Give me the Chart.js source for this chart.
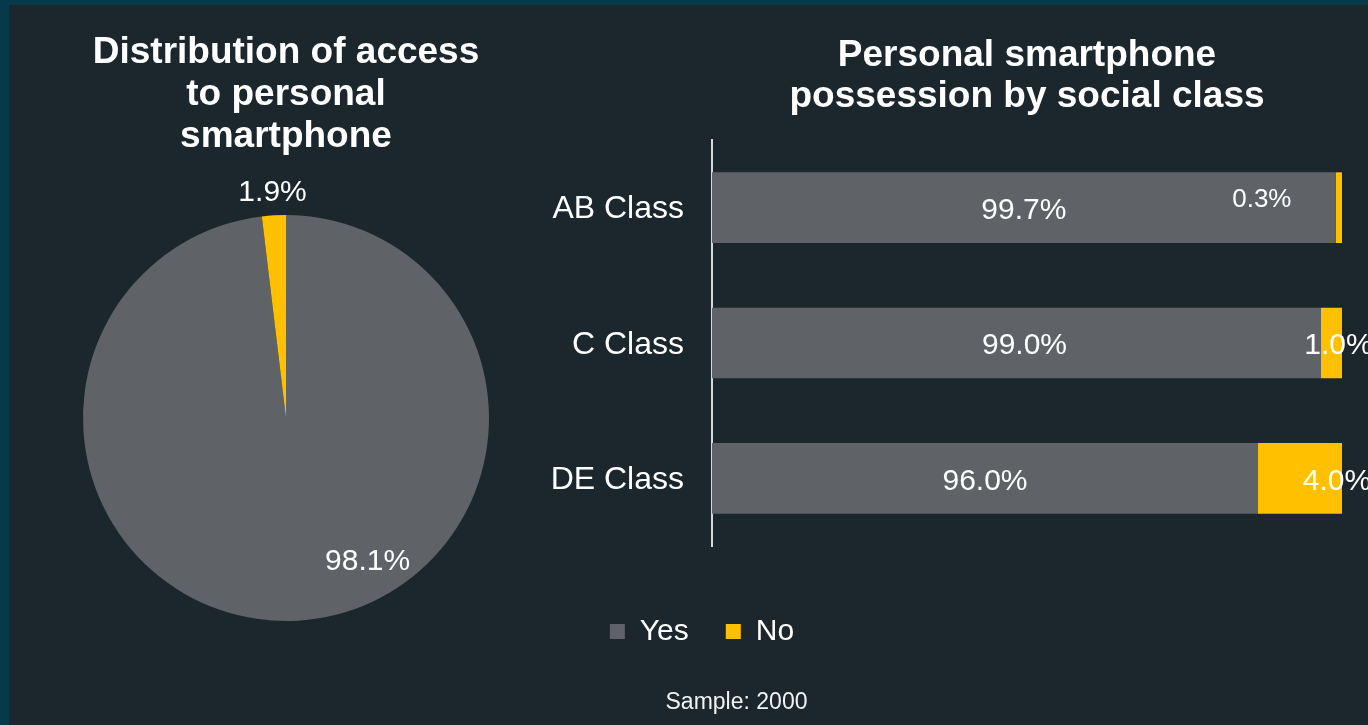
<!DOCTYPE html>
<html>
<head>
<meta charset="utf-8">
<script src="https://cdn.jsdelivr.net/npm/chart.js@4/dist/chart.umd.min.js"></script>
<style>
  html, body { margin: 0; padding: 0; }
  body {
    width: 1368px; height: 725px; overflow: hidden;
    background: #1b272c;
    font-family: Arial, "Liberation Sans", sans-serif;
  }
  .frame-top { position: absolute; left: 0; top: 0; width: 1368px; height: 5px; background: #063a4a; }
  .frame-left { position: absolute; left: 0; top: 0; width: 9px; height: 725px; background: #063a4a; }
  .box { position: absolute; top: 0; height: 725px; }
  #pieBox { left: 0; width: 572px; }
  #barBox { left: 36px; width: 1332px; }
  .sample {
    position: absolute; left: 600px; width: 273px; top: 690px;
    text-align: center; font-size: 23px; line-height: 23px; color: #f2f2f2;
  }
</style>
</head>
<body>
<div class="frame-top"></div>
<div class="frame-left"></div>
<div class="box" id="barBox"><canvas id="barChart"></canvas></div>
<div class="box" id="pieBox"><canvas id="pieChart"></canvas></div>
<div class="sample">Sample: 2000</div>

<script>
// pie: access to a personal smartphone
const pieCategories = ["Yes", "No"];
const pieValues = [98.1, 1.9];

// bars: possession by social class (axis starts at 70%)
const classLabels = ["AB Class", "C Class", "DE Class"];
const yesValues = [99.7, 99.0, 96.0];
const noValues = [0.3, 1.0, 4.0];
const axisMin = 70;
const axisMax = 100;

const GREY = "#5f6367";
const YELLOW = "#ffc000";
const FONT = "Arial, 'Liberation Sans', sans-serif";

Chart.defaults.color = "#ffffff";
Chart.defaults.font.family = FONT;

// draws the % labels on the pie slices
const pieLabelPlugin = {
  id: "pieLabels",
  afterDatasetsDraw(chart, args, opts) {
    const ctx = chart.ctx;
    const meta = chart.getDatasetMeta(0);
    const values = chart.data.datasets[0].data;
    ctx.save();
    ctx.fillStyle = "#ffffff";
    ctx.font = opts.size + "px " + FONT;
    ctx.textAlign = "center";
    ctx.textBaseline = "middle";
    meta.data.forEach((arc, i) => {
      const p = arc.getProps(["x", "y", "startAngle", "endAngle", "outerRadius"], true);
      const place = opts.place[i];
      const a = p.startAngle + (p.endAngle - p.startAngle) * place.t;
      const r = p.outerRadius * place.r;
      ctx.fillText(values[i].toFixed(1) + "%", p.x + Math.cos(a) * r, p.y + Math.sin(a) * r);
    });
    ctx.restore();
  }
};

// draws the % labels centred in the visible part of each bar segment
const barLabelPlugin = {
  id: "barLabels",
  afterDatasetsDraw(chart, args, opts) {
    const ctx = chart.ctx;
    const area = chart.chartArea;
    ctx.save();
    ctx.fillStyle = "#ffffff";
    ctx.textAlign = "center";
    ctx.textBaseline = "middle";
    chart.data.datasets.forEach((ds, di) => {
      const meta = chart.getDatasetMeta(di);
      meta.data.forEach((bar, i) => {
        const p = bar.getProps(["x", "y", "base"], true);
        const x0 = Math.max(area.left, Math.min(p.x, p.base));
        const x1 = Math.min(area.right, Math.max(p.x, p.base));
        const tweak = opts.tweaks.find(t => t.dataset === di && t.index === i) || {};
        ctx.font = (tweak.size || opts.size) + "px " + FONT;
        ctx.fillText(ds.data[i].toFixed(1) + "%",
          (x0 + x1) / 2 + (tweak.dx || 0),
          p.y + opts.dy + (tweak.dy || 0));
      });
    });
    ctx.restore();
  }
};

new Chart(document.getElementById("pieChart"), {
  type: "pie",
  data: {
    labels: pieCategories,
    datasets: [{
      data: pieValues,
      backgroundColor: [GREY, YELLOW],
      borderWidth: 0
    }]
  },
  options: {
    responsive: true,
    maintainAspectRatio: false,
    animation: false,
    layout: { padding: { top: 0, bottom: 104, left: 0, right: 0 } },
    plugins: {
      legend: { display: false },
      tooltip: { enabled: false },
      title: {
        display: true,
        text: ["Distribution of access", "to personal", "smartphone"],
        color: "#ffffff",
        font: { size: 37, weight: "bold", lineHeight: "42px" },
        padding: { top: 32, bottom: 57 }
      },
      pieLabels: {
        size: 30,
        place: [{ t: 0.426, r: 0.815 }, { t: 0.5, r: 1.11 }]
      }
    }
  },
  plugins: [pieLabelPlugin]
});

new Chart(document.getElementById("barChart"), {
  type: "bar",
  data: {
    labels: classLabels,
    datasets: [
      { label: "Yes", data: yesValues, backgroundColor: GREY, borderWidth: 0, barPercentage: 0.522, categoryPercentage: 1 },
      { label: "No", data: noValues, backgroundColor: YELLOW, borderWidth: 0, barPercentage: 0.522, categoryPercentage: 1 }
    ]
  },
  options: {
    indexAxis: "y",
    responsive: true,
    maintainAspectRatio: false,
    animation: false,
    layout: { padding: { top: 0, bottom: 68.5, left: 26, right: 26 } },
    scales: {
      x: {
        stacked: true,
        min: axisMin,
        max: axisMax,
        grid: { display: false, drawTicks: false },
        border: { display: false },
        ticks: { display: false },
        afterFit: (scale) => { scale.height = 33.5; }
      },
      y: {
        stacked: true,
        grid: { display: false, drawTicks: false },
        border: { display: true, color: "#d9d9d9", width: 2 },
        ticks: { color: "#ffffff", padding: 28, labelOffset: 2, font: { size: 32 } },
        afterFit: (scale) => { scale.width = 650; }
      }
    },
    plugins: {
      tooltip: { enabled: false },
      title: {
        display: true,
        fullSize: false,
        text: ["Personal smartphone", "possession by social class"],
        color: "#ffffff",
        font: { size: 37, weight: "bold", lineHeight: "41px" },
        padding: { top: 35, bottom: 23 }
      },
      legend: {
        position: "bottom",
        labels: {
          color: "#ffffff",
          boxWidth: 15,
          boxHeight: 15,
          padding: 37,
          font: { size: 30 }
        }
      },
      barLabels: {
        size: 30,
        dy: 3,
        tweaks: [
          { dataset: 1, index: 0, size: 26, dx: -77, dy: -11 },
          { dataset: 0, index: 1, dx: 8 },
          { dataset: 1, index: 1, dx: 7 },
          { dataset: 1, index: 2, dx: 37 }
        ]
      }
    }
  },
  plugins: [barLabelPlugin]
});
</script>
</body>
</html>
